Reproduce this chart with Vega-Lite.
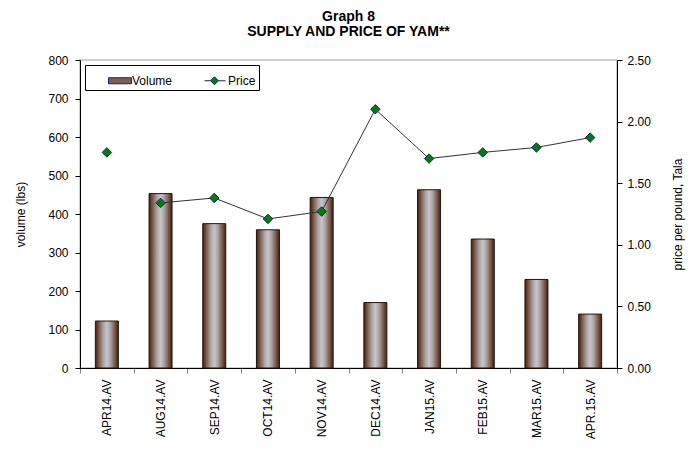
{
  "$schema": "https://vega.github.io/schema/vega-lite/v6.json",
  "autosize": {"type": "none"},
  "width": 537,
  "height": 308,
  "padding": {"left": 80, "top": 60, "right": 82, "bottom": 84},
  "background": "white",
  "config": {
    "font": "Liberation Sans",
    "view": {"stroke": "#c0c0c0", "strokeWidth": 1.5},
    "axis": {"labelFont": "Liberation Sans", "titleFont": "Liberation Sans", "labelFontSize": 12, "titleFontSize": 12, "titleFontWeight": "normal", "labelColor": "black", "titleColor": "black", "domainColor": "black", "tickColor": "black", "grid": false},
    "legend": {
      "title": null,
      "orient": "none",
      "legendX": 5,
      "legendY": 5,
      "direction": "horizontal",
      "strokeColor": "black",
      "fillColor": "white",
      "padding": 3,
      "labelFontSize": 12,
      "labelFont": "Liberation Sans",
      "labelColor": "black",
      "columnPadding": 11,
      "symbolSize": 576,
      "symbolStrokeWidth": 1,
      "symbolOpacity": 1,
      "labelOffset": 19,
      "labelExpr": "datum.label === 'Price' ? 'Price      ' : datum.label"
    }
  },
  "title": {
    "text": ["Graph 8", "SUPPLY AND PRICE OF YAM**"],
    "font": "Liberation Sans",
    "fontSize": 14,
    "fontWeight": "bold",
    "anchor": "middle",
    "offset": 15,
    "lineHeight": 15,
    "color": "black"
  },
  "data": {
    "values": [
      {"month": "APR14.AV", "volume": 122, "price": 1.75},
      {"month": "AUG14.AV", "volume": 453, "price": 1.34},
      {"month": "SEP14.AV", "volume": 375, "price": 1.38},
      {"month": "OCT14.AV", "volume": 359, "price": 1.21},
      {"month": "NOV14.AV", "volume": 443, "price": 1.27},
      {"month": "DEC14.AV", "volume": 170, "price": 2.1},
      {"month": "JAN15.AV", "volume": 463, "price": 1.7},
      {"month": "FEB15.AV", "volume": 335, "price": 1.75},
      {"month": "MAR15.AV", "volume": 230, "price": 1.79},
      {"month": "APR.15.AV", "volume": 140, "price": 1.87}
    ]
  },
  "encoding": {
    "x": {
      "field": "month",
      "type": "nominal",
      "sort": null,
      "scale": {"paddingInner": 0, "paddingOuter": 0},
      "axis": {"title": null, "labelAngle": -90, "labelAlign": "right", "labelBaseline": "middle", "labelPadding": 6, "tickBand": "extent", "tickSize": 5, "tickColor": "#808080", "labelFontSize": 12}
    }
  },
  "layer": [
    {
      "mark": {
        "type": "bar",
        "size": 23,
        "strokeWidth": 1,
        "stroke": "#2a1408",
        "fill": {
          "gradient": "linear", "x1": 0, "x2": 1, "y1": 0, "y2": 0,
          "stops": [
            {"offset": 0, "color": "#3d2014"},
            {"offset": 0.15, "color": "#7a5848"},
            {"offset": 0.35, "color": "#aca4a4"},
            {"offset": 0.5, "color": "#c4c6cc"},
            {"offset": 0.65, "color": "#aca4a4"},
            {"offset": 0.85, "color": "#7a5848"},
            {"offset": 1, "color": "#3d2014"}
          ]
        }
      },
      "encoding": {
        "y": {
          "field": "volume",
          "type": "quantitative",
          "scale": {"domain": [0, 800], "nice": false},
          "axis": {"title": "volume (lbs)", "values": [0, 100, 200, 300, 400, 500, 600, 700, 800], "tickSize": 5, "labelPadding": 7, "titlePadding": 20}
        }
      }
    },
    {
      "transform": [{"filter": "datum.month !== 'APR14.AV'"}],
      "mark": {"type": "line", "color": "#333333", "strokeWidth": 1},
      "encoding": {
        "y": {
          "field": "price",
          "type": "quantitative",
          "scale": {"domain": [0, 2.5], "nice": false},
          "axis": null
        }
      }
    },
    {
      "mark": {"type": "point", "shape": "diamond", "filled": true, "stroke": "#1a1a80", "size": 90, "strokeWidth": 1, "opacity": 1},
      "encoding": {
        "y": {
          "field": "price",
          "type": "quantitative",
          "scale": {"domain": [0, 2.5], "nice": false},
          "axis": {"title": "price per pound, Tala", "orient": "right", "format": ".2f", "values": [0, 0.5, 1, 1.5, 2, 2.5], "tickSize": 5, "labelPadding": 5, "titleAngle": -90, "titlePadding": 34}
        },
        "fill": {
          "datum": "Price",
          "type": "nominal",
          "scale": {"domain": ["Volume", "Price"], "range": ["#7f5f50", "#008000"]}
        }
      }
    },
    {
      "mark": {"type": "point", "opacity": 0, "filled": true},
      "encoding": {
        "y": {
          "field": "price",
          "type": "quantitative",
          "scale": {"domain": [0, 2.5], "nice": false},
          "axis": null
        },
        "shape": {
          "datum": "Price",
          "type": "nominal",
          "scale": {
            "domain": ["Volume", "Price"],
            "range": ["M0.667,-0.25L2.583,-0.25L2.583,0.25L0.667,0.25Z", "M0.667,0L1.17,0M1.83,0L2.417,0M1.5,-0.33L1.83,0L1.5,0.33L1.17,0Z"]
          }
        }
      }
    }
  ],
  "resolve": {"scale": {"y": "independent"}}
}
